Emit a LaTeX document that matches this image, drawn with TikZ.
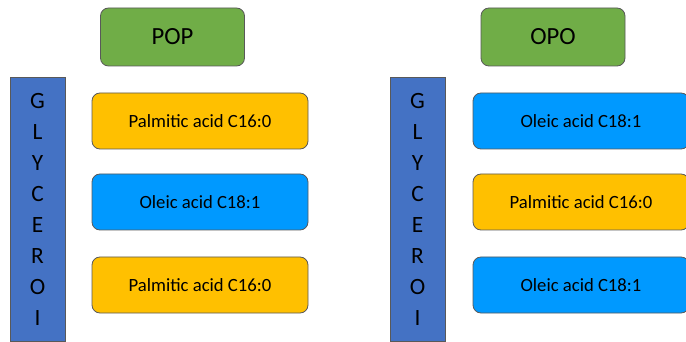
\documentclass[tikz,border=0pt]{standalone}
\usepackage{fontspec}
\setmainfont{Carlito}
\definecolor{popgreen}{HTML}{70AD47}
\definecolor{palmorange}{HTML}{FFC000}
\definecolor{oleicblue}{HTML}{0099FF}
\definecolor{glyblue}{HTML}{4472C4}
\definecolor{edgegray}{HTML}{595959}
\tikzset{
	acidbox/.style={draw=edgegray,line width=0.6pt,rounded corners=6pt,
		minimum width=162pt,minimum height=42pt,inner sep=0pt,font=\fontsize{14}{16}\selectfont},
	palm/.style={acidbox,fill=palmorange},
	oleic/.style={acidbox,fill=oleicblue},
	namebox/.style={draw=edgegray,line width=0.6pt,fill=popgreen,rounded corners=6pt,
		minimum width=108pt,minimum height=43.5pt,inner sep=0pt,font=\fontsize{18.5}{21}\selectfont},
	glybar/.style={draw=edgegray,line width=0.6pt,fill=glyblue,
		minimum width=41.25pt,minimum height=198pt,inner sep=0pt},
	glyletter/.style={font=\fontsize{17.5}{20}\selectfont,inner sep=0pt}
}
\begin{document}
\begin{tikzpicture}[x=0.75pt,y=-0.75pt]
	\useasboundingbox (0,0) rectangle (686,342);
	\clip (0,0) rectangle (686,342);
	% left molecule: POP
	\node[namebox] (pop) at (172.5,37) {POP};
	\node[glybar] (glyL) at (37.5,209) {};
	\node[palm] (popA) at (200,121) {Palmitic acid C16:0};
	\node[oleic] (popB) at (200,202) {Oleic acid C18:1};
	\node[palm] (popC) at (200,285) {Palmitic acid C16:0};
	% right molecule: OPO
	\node[namebox] (opo) at (553,37) {OPO};
	\node[glybar] (glyR) at (417.5,209) {};
	\node[oleic] (opoA) at (581,121) {Oleic acid C18:1};
	\node[palm] (opoB) at (581,202) {Palmitic acid C16:0};
	\node[oleic] (opoC) at (581,285) {Oleic acid C18:1};
	% glycerol letters
	\foreach \ch [count=\i] in {G,L,Y,C,E,R,O,I} {
		\node[glyletter] (gL\i) at (37.5,70+31*\i) {\ch};
		\node[glyletter] (gR\i) at (417.5,70+31*\i) {\ch};
	}
\end{tikzpicture}
\end{document}
